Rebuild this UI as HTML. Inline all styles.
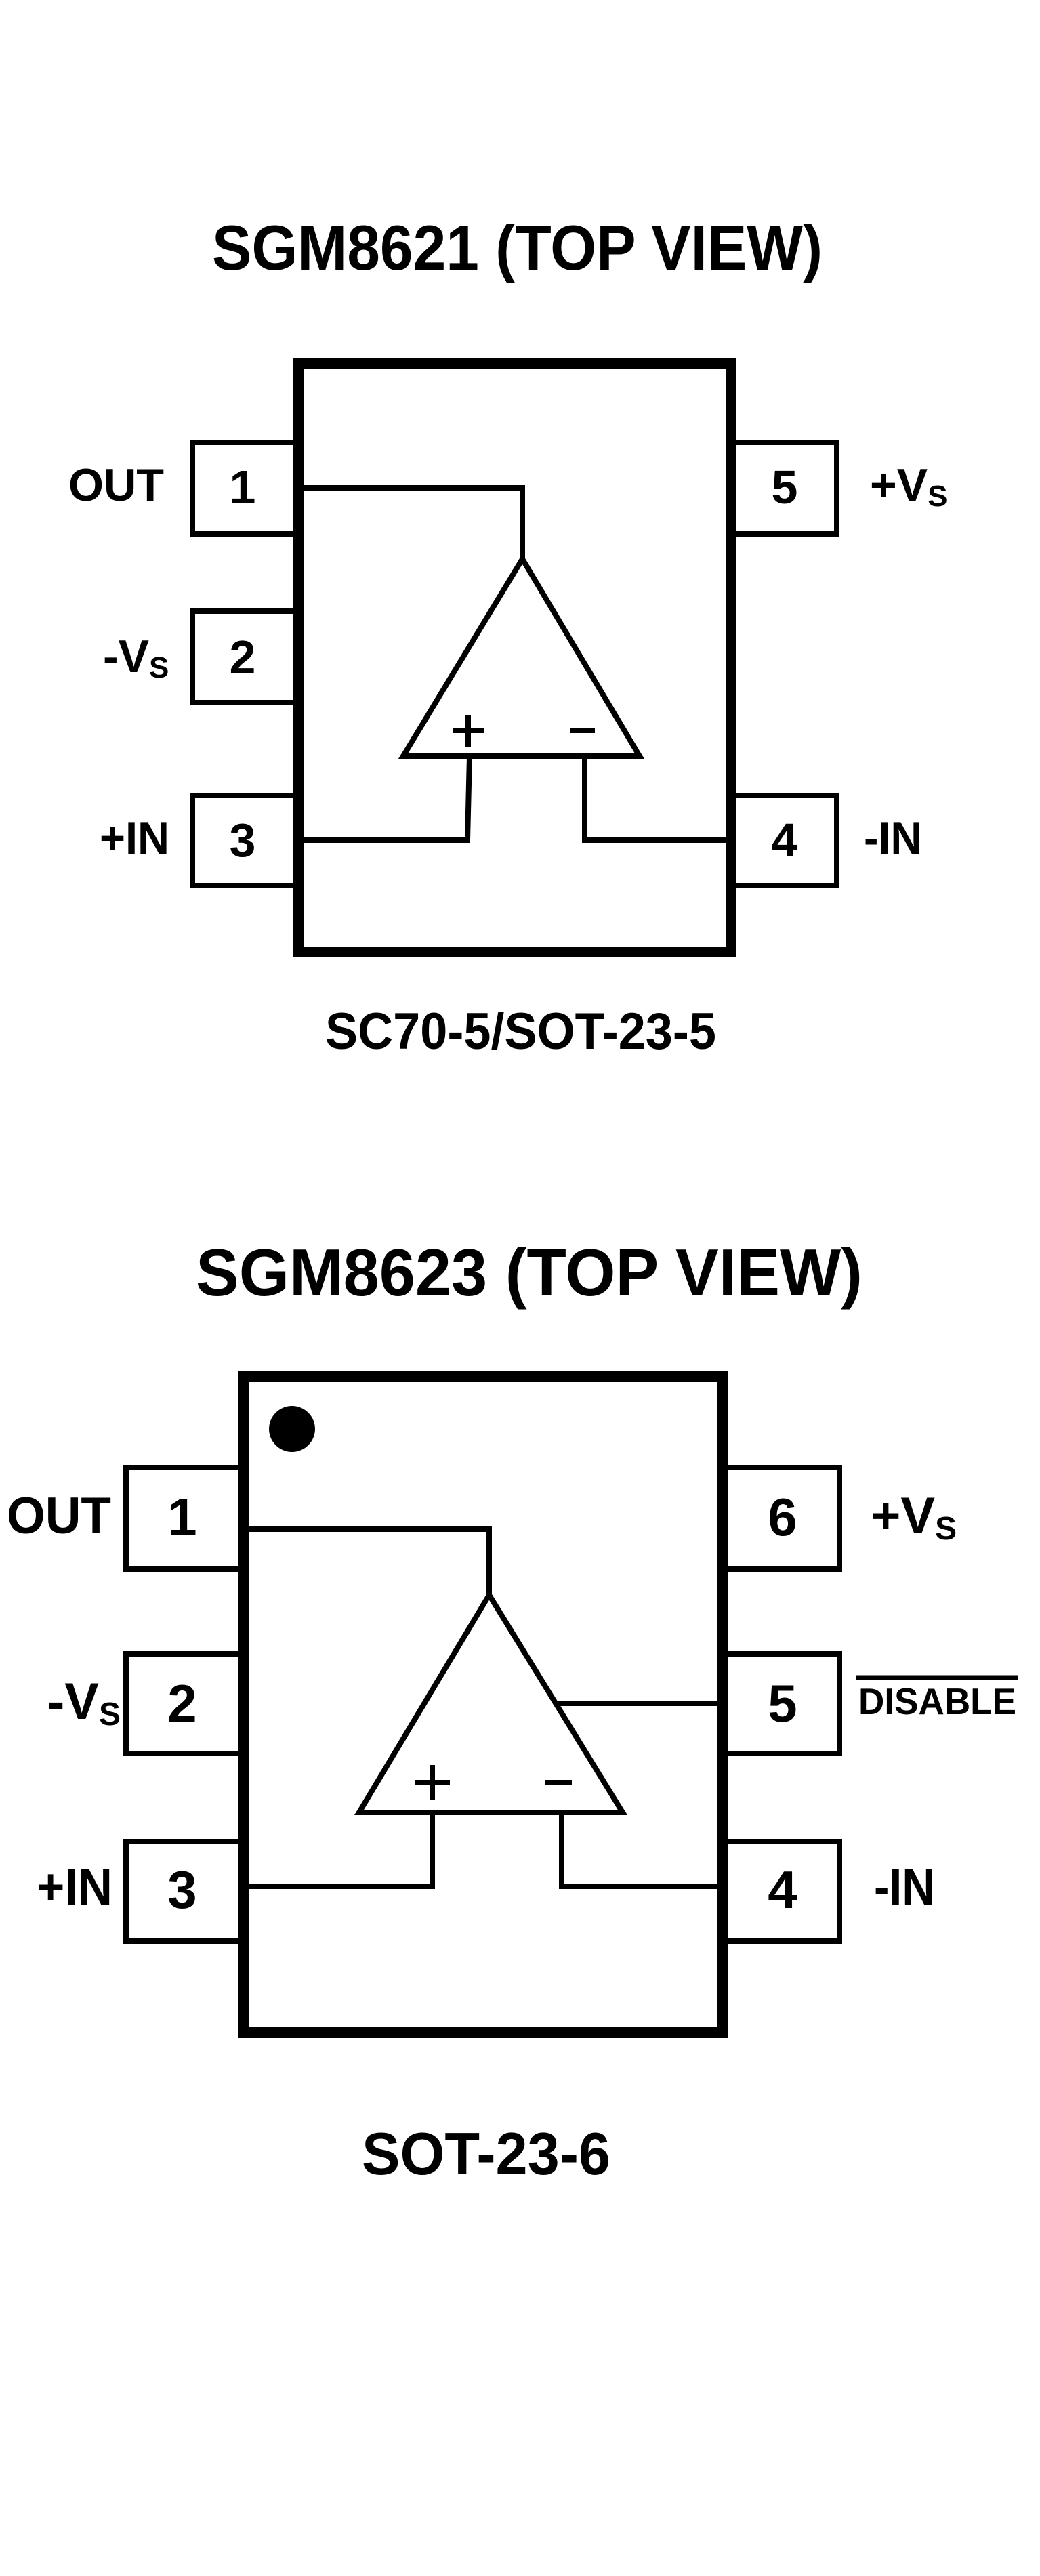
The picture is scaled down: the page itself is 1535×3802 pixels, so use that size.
<!DOCTYPE html>
<html><head><meta charset="utf-8"><style>html,body{margin:0;padding:0;background:#fff}svg{display:block}</style></head>
<body>
<svg width="1535" height="3802" viewBox="0 0 1535 3802" xmlns="http://www.w3.org/2000/svg" font-family="Liberation Sans, Arial, sans-serif" font-weight="bold">
<rect width="1535" height="3802" fill="#fff"/>
<!-- CHIP 1 -->
<text x="313" y="398" font-size="94" textLength="901" lengthAdjust="spacingAndGlyphs">SGM8621 (TOP VIEW)</text>
<g fill="none" stroke="#000">
<rect x="440.5" y="536.5" width="638" height="869" stroke-width="15"/>
<g stroke-width="8">
<polyline points="448,653 284,653 284,788 448,788"/>
<polyline points="448,902 284,902 284,1037 448,1037"/>
<polyline points="448,1174 284,1174 284,1307 448,1307"/>
<polyline points="1071,653 1235,653 1235,788 1071,788"/>
<polyline points="1071,1174 1235,1174 1235,1307 1071,1307"/>
<polyline points="448,720 771,720 771,825"/>
<polygon points="771,825 595,1116 944,1116"/>
<polyline points="693,1116 690,1240 448,1240"/>
<polyline points="863,1116 863,1240 1071,1240"/>
<line x1="668" y1="1078" x2="714" y2="1078"/>
<line x1="691" y1="1055" x2="691" y2="1102"/>
<line x1="842" y1="1078" x2="878" y2="1078"/>
</g></g>
<g font-size="70" text-anchor="middle">
<text x="358" y="743">1</text><text x="358" y="994">2</text><text x="358" y="1264">3</text>
<text x="1158" y="743">5</text><text x="1158" y="1264">4</text>
</g>
<g font-size="68">
<text x="101" y="739" textLength="141" lengthAdjust="spacingAndGlyphs">OUT</text>
<text x="152" y="992">-V<tspan font-size="44" dy="8">S</tspan></text>
<text x="147" y="1260" textLength="103" lengthAdjust="spacingAndGlyphs">+IN</text>
<text x="1284" y="739">+V<tspan font-size="44" dy="8">S</tspan></text>
<text x="1275" y="1260" textLength="86" lengthAdjust="spacingAndGlyphs">-IN</text>
</g>
<text x="480" y="1548" font-size="76" textLength="577" lengthAdjust="spacingAndGlyphs">SC70-5/SOT-23-5</text>

<!-- CHIP 2 -->
<text x="289" y="1912" font-size="98" textLength="984" lengthAdjust="spacingAndGlyphs">SGM8623 (TOP VIEW)</text>
<g fill="none" stroke="#000">
<rect x="360" y="2032" width="707" height="968" stroke-width="16"/>
<g stroke-width="8">
<polyline points="368,2166 186,2166 186,2316 368,2316"/>
<polyline points="368,2441 186,2441 186,2588 368,2588"/>
<polyline points="368,2718 186,2718 186,2865 368,2865"/>
<polyline points="1058,2166 1239,2166 1239,2316 1058,2316"/>
<polyline points="1058,2441 1239,2441 1239,2588 1058,2588"/>
<polyline points="1058,2718 1239,2718 1239,2865 1058,2865"/>
<polyline points="368,2257 722,2257 722,2354"/>
<polygon points="722,2354 530,2675 919,2675"/>
<line x1="818" y1="2514" x2="1058" y2="2514"/>
<polyline points="638,2675 638,2784 368,2784"/>
<polyline points="829,2675 829,2784 1058,2784"/>
<line x1="612" y1="2631" x2="664" y2="2631"/>
<line x1="638" y1="2605" x2="638" y2="2657"/>
<line x1="805" y1="2631" x2="844" y2="2631"/>
<line x1="1263" y1="2476" x2="1502" y2="2476" stroke-width="7"/>
</g></g>
<circle cx="431" cy="2109" r="34" fill="#000"/>
<g font-size="78" text-anchor="middle">
<text x="269" y="2266">1</text><text x="269" y="2541">2</text><text x="269" y="2816">3</text>
<text x="1155" y="2266">6</text><text x="1155" y="2541">5</text><text x="1155" y="2816">4</text>
</g>
<g font-size="76">
<text x="10" y="2263" textLength="154" lengthAdjust="spacingAndGlyphs">OUT</text>
<text x="70" y="2537">-V<tspan font-size="48" dy="9">S</tspan></text>
<text x="54" y="2811" textLength="112" lengthAdjust="spacingAndGlyphs">+IN</text>
<text x="1285" y="2263">+V<tspan font-size="48" dy="9">S</tspan></text>
<text x="1290" y="2811" textLength="90" lengthAdjust="spacingAndGlyphs">-IN</text>
</g>
<text x="1267" y="2530" font-size="55" textLength="233" lengthAdjust="spacingAndGlyphs">DISABLE</text>
<text x="534" y="3209" font-size="88" textLength="367" lengthAdjust="spacingAndGlyphs">SOT-23-6</text>
</svg>
</body></html>
